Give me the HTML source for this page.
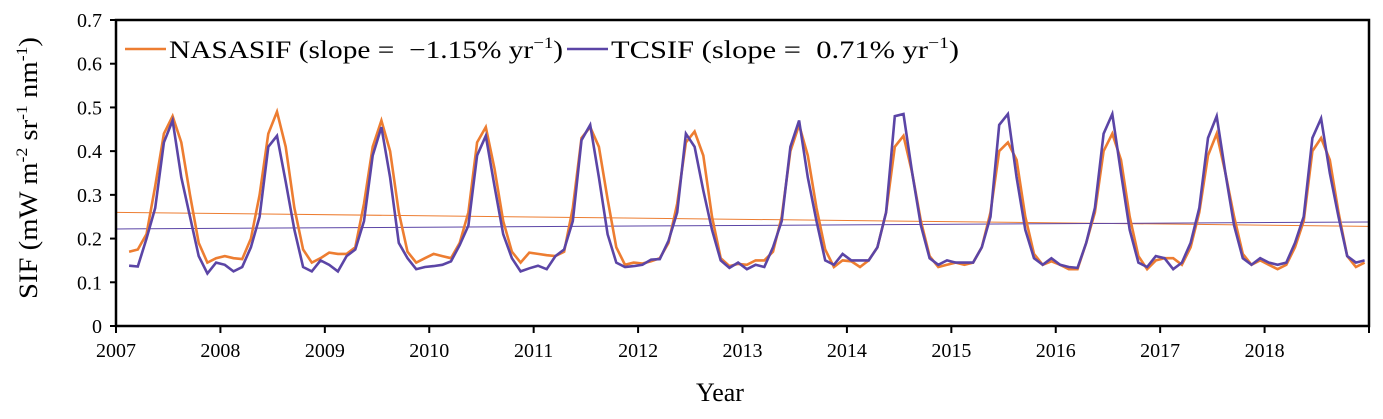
<!DOCTYPE html>
<html><head><meta charset="utf-8"><style>
body{margin:0;background:#fff}
svg text{font-family:"Liberation Serif",serif;fill:#000}
</style></head><body>
<svg id="chart" width="1383" height="414" viewBox="0 0 1383 414" xmlns="http://www.w3.org/2000/svg">
<g id="grid"></g>
<g id="series"></g>
<g id="axes"></g>
<g id="legend">
  <line x1="125" y1="49" x2="166" y2="49" stroke="#ED7D31" stroke-width="2.5"/>
  <text x="169" y="58" font-size="25" textLength="394" lengthAdjust="spacingAndGlyphs">NASASIF (slope =&#160;&#160;−1.15% yr<tspan font-size="16" dy="-10">−1</tspan><tspan dy="10">)</tspan></text>
  <line x1="567" y1="49" x2="608" y2="49" stroke="#5B45A6" stroke-width="2.5"/>
  <text x="611" y="58" font-size="25" textLength="348" lengthAdjust="spacingAndGlyphs">TCSIF (slope =&#160;&#160;0.71% yr<tspan font-size="16" dy="-10">−1</tspan><tspan dy="10">)</tspan></text>
</g>
</svg>
<script>
const yearLabels=["2007","2008","2009","2010","2011","2012","2013","2014","2015","2016","2017","2018"];
const yTicks=[0,0.1,0.2,0.3,0.4,0.5,0.6,0.7];
const nasaSif=[
.17,.175,.21,.32,.44,.48,.42,.30,.19,.145,.155,
.16,.155,.153,.2,.3,.44,.49,.41,.27,.175,.145,.155,
.168,.165,.165,.18,.28,.41,.47,.40,.26,.17,.145,.155,
.165,.16,.155,.19,.26,.42,.455,.36,.24,.17,.145,.168,
.165,.162,.16,.17,.27,.43,.455,.41,.29,.18,.14,.145,
.143,.148,.155,.19,.28,.42,.445,.39,.25,.155,.137,.142,
.14,.15,.15,.17,.25,.40,.46,.39,.27,.175,.135,.15,
.148,.135,.15,.18,.26,.41,.435,.35,.24,.16,.135,.14,
.145,.14,.145,.18,.26,.40,.42,.38,.25,.165,.14,.148,
.14,.13,.13,.19,.26,.40,.44,.38,.25,.16,.13,.15,
.155,.155,.14,.18,.26,.39,.44,.35,.25,.165,.14,.15,
.14,.13,.14,.18,.24,.40,.43,.38,.26,.16,.135,.145];
const tcSif=[
.138,.136,.2,.27,.42,.47,.34,.25,.16,.12,.145,
.14,.125,.135,.18,.25,.41,.435,.33,.22,.135,.125,.15,
.14,.125,.16,.175,.24,.39,.455,.34,.19,.155,.13,.135,
.137,.14,.148,.185,.23,.39,.435,.32,.21,.155,.125,.132,
.138,.13,.16,.175,.24,.425,.46,.34,.21,.145,.135,.137,
.14,.152,.153,.195,.26,.44,.41,.31,.22,.15,.133,.145,
.13,.14,.135,.18,.24,.41,.47,.34,.24,.15,.14,.165,
.15,.15,.15,.18,.26,.48,.485,.35,.23,.155,.14,.15,
.145,.145,.145,.18,.25,.46,.485,.34,.22,.155,.14,.155,
.14,.135,.133,.19,.27,.44,.485,.35,.22,.145,.135,.16,
.155,.13,.145,.19,.27,.43,.48,.35,.23,.155,.14,.155,
.145,.14,.145,.19,.25,.43,.475,.35,.25,.16,.145,.15];
const nasaTrend=[0.260,0.228];
const tcTrend=[0.222,0.238];
const startYear=2007, endYear=2019, startMonth=1;

const X0=116,X1=1369,Y0=326,Y1=20;
const xs=t=>X0+(t-startYear)/(endYear-startYear)*(X1-X0);
const ys=v=>Y0-v/0.7*(Y0-Y1);
const NS="http://www.w3.org/2000/svg";
function mk(tag,attrs,parent){const e=document.createElementNS(NS,tag);for(const k in attrs)e.setAttribute(k,attrs[k]);parent.appendChild(e);return e;}
const axes=document.getElementById('axes'),series=document.getElementById('series');

let tl=mk('line',{x1:xs(startYear),y1:ys(nasaTrend[0]),x2:xs(endYear),y2:ys(nasaTrend[1]),stroke:'#ED7D31','stroke-width':1},series);


let tl2=mk('line',{x1:xs(startYear),y1:ys(tcTrend[0]),x2:xs(endYear),y2:ys(tcTrend[1]),stroke:'#5B45A6','stroke-width':1},series);



function pts(arr){return arr.map((v,i)=>xs(startYear+(startMonth+i+0.5)/12).toFixed(1)+','+ys(v).toFixed(1)).join(' ');}
let p1=mk('polyline',{points:pts(nasaSif),fill:'none',stroke:'#ED7D31','stroke-width':2.6,'stroke-linejoin':'miter'},series);


let p2=mk('polyline',{points:pts(tcSif),fill:'none',stroke:'#5B45A6','stroke-width':2.6,'stroke-linejoin':'miter'},series);



let fr=mk('rect',{x:X0,y:Y1,width:X1-X0,height:Y0-Y1,fill:'none',stroke:'#000','stroke-width':2.5},axes);



yTicks.forEach(v=>{
  const y=ys(v);
  let t=mk('line',{x1:X0-6,y1:y,x2:X0,y2:y,stroke:'#000','stroke-width':2},axes);
  
  
  let l=mk('text',{x:X0-14,y:y+7,'text-anchor':'end','font-size':20},axes);
  l.textContent=v===0?'0':v.toFixed(1);
  
  
});
for(let yr=startYear;yr<=endYear;yr++){
  const x=xs(yr);
  let t=mk('line',{x1:x,y1:Y0,x2:x,y2:Y0+7,stroke:'#000','stroke-width':2},axes);
  
  
}
yearLabels.forEach((s,i)=>{
  let l=mk('text',{x:xs(startYear+i),y:Y0+31,'text-anchor':'middle','font-size':20},axes);
  l.textContent=s;
  
  
});
let xt=mk('text',{x:720,y:401,'text-anchor':'middle','font-size':26},axes);
xt.textContent='Year';


let yt=mk('text',{x:0,y:0,'text-anchor':'middle','font-size':26,textLength:262,lengthAdjust:'spacingAndGlyphs',transform:'translate(37,168) rotate(-90)'},axes);
yt.innerHTML='SIF (mW m<tspan font-size="16" dy="-10">-2</tspan><tspan dy="10"> sr</tspan><tspan font-size="16" dy="-10">-1</tspan><tspan dy="10"> nm</tspan><tspan font-size="16" dy="-10">-1</tspan><tspan dy="10">)</tspan>';


</script>
</body></html>
